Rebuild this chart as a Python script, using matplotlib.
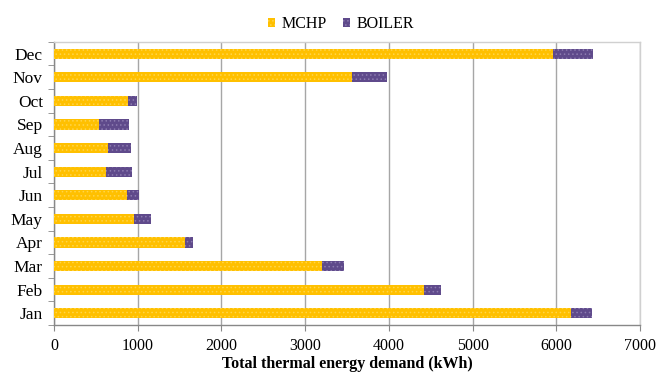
import matplotlib
matplotlib.use("Agg")
import matplotlib.pyplot as plt
import numpy as np

months = ["Jan", "Feb", "Mar", "Apr", "May", "Jun", "Jul", "Aug", "Sep", "Oct", "Nov", "Dec"]
mchp = [6170, 4420, 3200, 1570, 960, 875, 620, 650, 535, 880, 3560, 5960]
boiler = [260, 200, 260, 95, 200, 140, 315, 270, 365, 110, 420, 480]
xticks = [0, 1000, 2000, 3000, 4000, 5000, 6000, 7000]

plt.rcParams['font.family'] = ['Liberation Serif', 'DejaVu Serif']
plt.rcParams['hatch.linewidth'] = 0.6

fig = plt.figure(figsize=(6.56, 3.74), dpi=100)
ax = fig.add_axes([0.0823, 0.131, 0.8933, 0.757])

y = np.arange(len(months))
yellow = "#FFC000"
purple = "#5F4A8B"
ax.barh(y, mchp, height=0.43, color=yellow, edgecolor="#FFD54A", hatch="....", linewidth=0, label="MCHP", zorder=3)
ax.barh(y, boiler, left=mchp, height=0.43, color=purple, edgecolor="#8C7BB0", hatch="....", linewidth=0, label="BOILER", zorder=3)

ax.set_xlim(0, 7000)
ax.set_ylim(-0.5, 11.5)
ax.set_xticks(xticks)
ax.set_xticklabels([str(v) for v in xticks], fontsize=11.5)
ax.set_yticks(y)
ax.set_yticklabels(months, fontsize=12.5)
ax.set_yticks(np.arange(-0.5, 12, 1), minor=True)
ax.tick_params(axis='y', which='major', length=0, pad=8)
ax.tick_params(axis='y', which='minor', length=4, color="#888888")
ax.tick_params(axis='x', which='major', length=4, color="#888888", pad=5)

ax.grid(axis='x', color="#A6A6A6", linewidth=1.0, zorder=0)
ax.set_axisbelow(True)
for s in ["top", "right"]:
    ax.spines[s].set_color("#D0D0D0")
    ax.spines[s].set_linewidth(1.0)
for s in ["left", "bottom"]:
    ax.spines[s].set_color("#888888")
    ax.spines[s].set_linewidth(1.0)

ax.set_xlabel("Total thermal energy demand (kWh)", fontsize=11.5, fontweight="bold", labelpad=2)

leg = fig.legend(loc="upper center", bbox_to_anchor=(0.52, 0.995), ncol=2, frameon=False,
                 fontsize=11.5, handlelength=0.45, handleheight=0.45, handletextpad=0.4, columnspacing=1.0)

fig.savefig("out.png", dpi=100)
